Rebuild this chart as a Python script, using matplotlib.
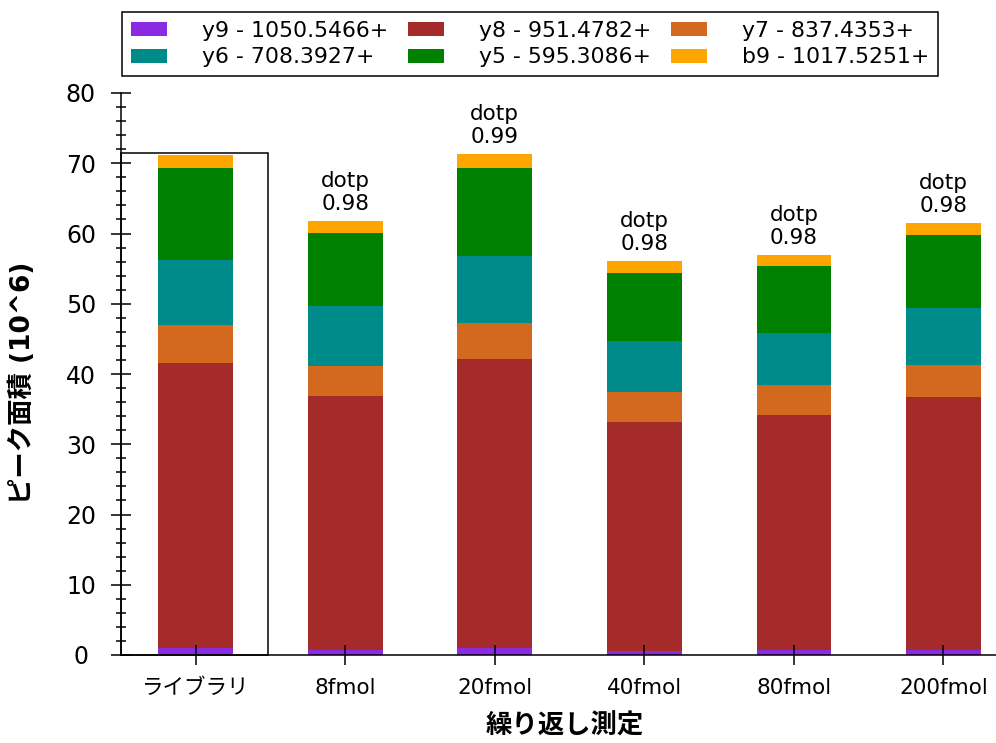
import matplotlib
matplotlib.use("Agg")
import matplotlib.pyplot as plt
from matplotlib.patches import Rectangle
import numpy as np

plt.rcParams['font.family'] = ['DejaVu Sans', 'Noto Sans CJK JP']

# Samples (x categories)
categories = ["ライブラリ", "8fmol", "20fmol", "40fmol", "80fmol", "200fmol"]

# Peak areas per transition (10^6), stacked bottom to top
series_labels = ["y9 - 1050.5466+", "y8 - 951.4782+", "y7 - 837.4353+",
                 "y6 - 708.3927+", "y5 - 595.3086+", "b9 - 1017.5251+"]
y9 = [1.04, 0.71, 1.04, 0.57, 0.71, 0.67]
y8 = [40.53, 36.16, 41.09, 32.55, 33.45, 36.06]
y7 = [5.40, 4.27, 5.13, 4.28, 4.27, 4.55]
y6 = [9.23, 8.54, 9.54, 7.30, 7.41, 8.12]
y5 = [13.10, 10.39, 12.50, 9.68, 9.53, 10.39]
b9 = [1.90, 1.71, 2.00, 1.66, 1.57, 1.71]
series_colors = ["#8A2BE2", "#A52A2A", "#D2691E", "#008B8B", "#008000", "#FFA500"]

# Dot-product similarity to the library spectrum (None for the library itself)
dotp = [None, 0.98, 0.99, 0.98, 0.98, 0.98]

fig = plt.figure(figsize=(9.96, 7.43), dpi=100)
ax = fig.add_axes([121/996, 1 - 655/743, 1 - 121/996, (655 - 93)/743])

x = np.arange(len(categories))
bottom = np.zeros(len(categories))
handles = []
for vals, lab, col in zip([y9, y8, y7, y6, y5, b9], series_labels, series_colors):
    vals = np.asarray(vals)
    h = ax.bar(x, vals, 0.5, bottom=bottom, color=col, label=lab, linewidth=0)
    handles.append(h)
    bottom = bottom + vals
totals = bottom

# dotp annotations above each sample bar
for xi, tot, d in zip(x, totals, dotp):
    if d is None:
        continue
    ax.annotate(f"dotp\n{d:.2f}", (xi, tot), xytext=(0, 5), textcoords="offset points",
                ha="center", va="bottom", fontsize=15.5, linespacing=1.2)

# frame highlighting the library reference bar
ax.add_patch(Rectangle((-0.5, 0), 0.98, totals[0] * 1.003, fill=False,
                       edgecolor="black", linewidth=1.1, clip_on=False, zorder=3))

ax.set_xlim(-0.5, (996 - 196) / 149.5)
ax.set_ylim(0, 80)
ax.set_xticks(x)
ax.set_xticklabels(categories, fontsize=15.5)
ax.set_yticks(np.arange(0, 81, 10))
ax.set_yticks(np.arange(0, 81, 2), minor=True)
ax.tick_params(axis="y", which="major", direction="inout", length=13.7, width=1.1,
               labelsize=17, pad=22)
ax.tick_params(axis="y", which="minor", direction="inout", length=6.5, width=1.1)
ax.tick_params(axis="x", which="major", direction="inout", length=13.7, width=1.1, pad=10)
for t in ax.get_yticklabels():
    t.set_horizontalalignment("center")

for s in ["top", "right"]:
    ax.spines[s].set_visible(False)
for s in ["left", "bottom"]:
    ax.spines[s].set_linewidth(1.1)

ax.set_ylabel("ピーク面積 (10^6)", fontsize=19, fontweight="bold", va="center")
ax.yaxis.set_label_coords(-0.112, 0.485)
ax.set_xlabel("繰り返し測定", fontsize=19, fontweight="bold", va="center")
ax.xaxis.set_label_coords(0.507, -0.128)

# legend filled row by row: y9 y8 y7 / y6 y5 b9
ncol, nrow = 3, 2
order = [r * ncol + c for c in range(ncol) for r in range(nrow)]
leg = fig.legend(handles=[handles[i] for i in order],
                 labels=[series_labels[i] for i in order], loc="upper center",
                 bbox_to_anchor=(530/996, 1 - 12/743), ncol=ncol, fontsize=15.8,
                 frameon=True, fancybox=False, edgecolor="black", framealpha=1,
                 handlelength=1.64, handleheight=0.6, handletextpad=1.6,
                 columnspacing=0.9, labelspacing=0.3, borderaxespad=0)
leg.get_frame().set_linewidth(1.1)

fig.savefig("out.png", dpi=100)
